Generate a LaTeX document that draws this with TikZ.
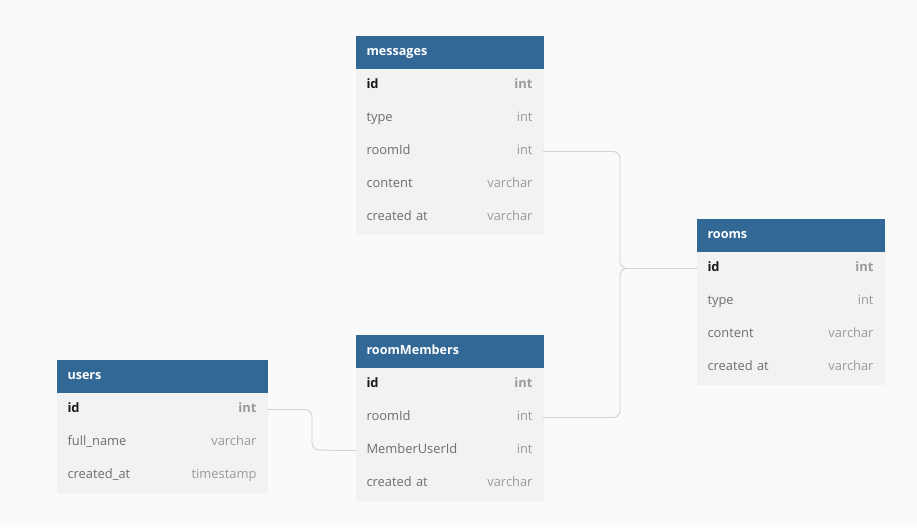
\documentclass[tikz,border=0pt]{standalone}
\usepackage{fontspec}
\setmainfont{Open Sans}
\usetikzlibrary{positioning}
\definecolor{headblue}{HTML}{316896}
\definecolor{rowgray}{HTML}{F2F2F2}
\definecolor{bggray}{HTML}{FAFAFA}
\definecolor{namegray}{HTML}{6E6E6E}
\definecolor{typegray}{HTML}{9A9A9A}
\definecolor{keyblack}{HTML}{1A1A1A}
\definecolor{linkgray}{HTML}{D2D2D2}
\tikzset{
  tabhead/.style={fill=headblue,draw=headblue,line width=0.4pt,outer sep=0pt,text=white,
    font=\bfseries\fontsize{12.6}{14}\selectfont,text height=9pt,text depth=3pt,
    anchor=north west,inner xsep=10.5pt,inner ysep=0pt,minimum height=33pt,align=left},
  tabrow/.style={fill=rowgray,draw=rowgray,line width=0.4pt,outer sep=0pt,text=namegray,
    font=\fontsize{12.9}{14}\selectfont,text height=9pt,text depth=3pt,
    inner xsep=10.5pt,inner ysep=0pt,minimum height=33pt,align=left},
  keyrow/.style={tabrow,text=keyblack,font=\bfseries\fontsize{12.9}{14}\selectfont},
  link/.style={draw=linkgray,line width=0.9pt,rounded corners=7pt}
}
\newcommand{\ftype}[1]{\hfill\textcolor{typegray}{#1}}

\begin{document}
\begin{tikzpicture}[x=1pt,y=-1pt]
\fill[bggray] (0,0) rectangle (917,527);
\useasboundingbox (0,0) rectangle (917,527);

% messages
\node[tabhead,text width=166pt] (messages) at (356,36) {messages};
\node[keyrow,text width=166pt,below=0pt of messages] (messages-id) {id\ftype{int}};
\foreach \fkey/\fname/\fkind [remember=\fkey as \prev (initially id)] in
  {type/type/int,roomId/roomId/int,content/content/varchar,created/created at/varchar}
  \node[tabrow,text width=166pt,below=0pt of messages-\prev] (messages-\fkey) {\fname\ftype{\fkind}};

% rooms
\node[tabhead,text width=166pt] (rooms) at (697,219) {rooms};
\node[keyrow,text width=166pt,below=0pt of rooms] (rooms-id) {id\ftype{int}};
\foreach \fkey/\fname/\fkind [remember=\fkey as \prev (initially id)] in
  {type/type/int,content/content/varchar,created/created at/varchar}
  \node[tabrow,text width=166pt,below=0pt of rooms-\prev] (rooms-\fkey) {\fname\ftype{\fkind}};

% roomMembers
\node[tabhead,text width=166pt] (roomMembers) at (356,335) {roomMembers};
\node[keyrow,text width=166pt,below=0pt of roomMembers] (roomMembers-id) {id\ftype{int}};
\foreach \fkey/\fname/\fkind [remember=\fkey as \prev (initially id)] in
  {roomId/roomId/int,MemberUserId/MemberUserId/int,created/created at/varchar}
  \node[tabrow,text width=166pt,below=0pt of roomMembers-\prev] (roomMembers-\fkey) {\fname\ftype{\fkind}};

% users
\node[tabhead,text width=189pt] (users) at (57,360) {users};
\node[keyrow,text width=189pt,below=0pt of users] (users-id) {id\ftype{int}};
\foreach \fkey/\fname/\fkind [remember=\fkey as \prev (initially id)] in
  {fullname/full\_name/varchar,createdat/created\_at/timestamp}
  \node[tabrow,text width=189pt,below=0pt of users-\prev] (users-\fkey) {\fname\ftype{\fkind}};

% references
\coordinate (join) at (620,268.5);
\coordinate (bend) at (312,450);
\draw[link] (messages-roomId.east) -| (join) -- (rooms-id.west);
\draw[link] (roomMembers-roomId.east) -| (join) -- (rooms-id.west);
\draw[link] (users-id.east) -| (bend) -- (roomMembers-MemberUserId.west);
\end{tikzpicture}
\end{document}
